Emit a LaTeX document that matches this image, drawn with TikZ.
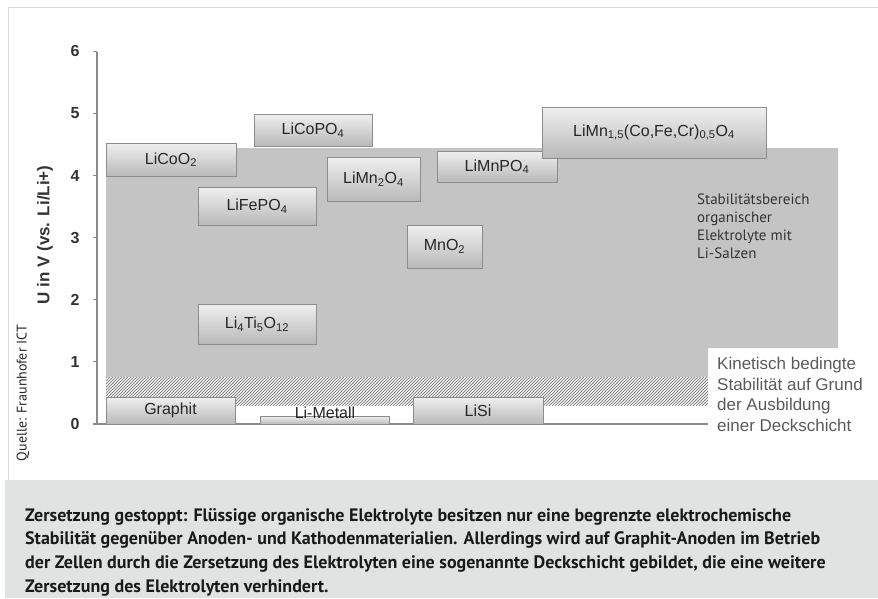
\documentclass[tikz,border=0pt]{standalone}
\usepackage{fontspec}
\setmainfont{Liberation Sans}
\newfontfamily\srcfont{PT Sans}
\usetikzlibrary{patterns,shadows}

\definecolor{regiongray}{HTML}{C4C4C4}
\definecolor{hatchgray}{HTML}{6E6E6E}
\definecolor{boxedge}{HTML}{8C8C8C}
\definecolor{axisgray}{HTML}{8A8A8A}
\definecolor{framegray}{HTML}{DADADA}
\definecolor{captiongray}{HTML}{E1E3E3}
\definecolor{kinetext}{HTML}{5A5A5A}

\begin{document}
\begin{tikzpicture}[x=1pt,y=-1pt,
  matbox/.style={draw=boxedge,top color=gray!12,bottom color=gray!55,
    drop shadow={shadow xshift=1pt,shadow yshift=-1.2pt,opacity=0.3},
    inner sep=0pt,text=black!85,font=\fontsize{16}{16}\selectfont},
  ticklabel/.style={font=\bfseries\fontsize{16}{16}\selectfont,text=black!80}]
\useasboundingbox (0,0) rectangle (878,598);

% frame and caption area
\draw[framegray] (8,480) -- (8,7) -- (878,7);
\fill[captiongray] (5,480) rectangle (878,598);

% stability region of the electrolyte
\fill[regiongray] (106,148) -- (838,148) -- (838,348) -- (708,348) -- (708,377) -- (106,377) -- cycle;
\fill[gray!12] (106,377) rectangle (708,405);
\fill[pattern=north east lines,pattern color=hatchgray] (106,377) rectangle (708,405);

% axes
\draw[axisgray,line width=1.2pt] (97,52) -- (97,424);
\draw[axisgray,line width=1.2pt] (93,424) -- (708,424);
\foreach \v in {0,...,6} {
  \draw[axisgray,line width=1pt] (93,{424-62.1*\v}) -- (97,{424-62.1*\v});
  \node[ticklabel] (tick\v) at (75,{424-62.1*\v}) {\v};
}
\node[rotate=90,font=\bfseries\fontsize{17}{17}\selectfont,text=black!80] (ylabel) at (45,235) {U in V (vs. Li/Li+)};
\node[rotate=90,font=\srcfont\fontsize{14}{14}\selectfont,text=black!85] (source) at (23,393) {Quelle: Fraunhofer ICT};

% electrode materials
\node[matbox,minimum width=130,minimum height=33] (licoo2) at (171,159.5) {LiCoO\textsubscript{2}};
\node[matbox,minimum width=118,minimum height=32] (licopo4) at (313,130) {LiCoPO\textsubscript{4}};
\node[matbox,minimum width=93,minimum height=44] (limn2o4) at (373.5,179) {LiMn\textsubscript{2}O\textsubscript{4}};
\node[matbox,minimum width=118,minimum height=38] (lifepo4) at (257,206) {LiFePO\textsubscript{4}};
\node[matbox,minimum width=120,minimum height=31] (limnpo4) at (497,166.5) {LiMnPO\textsubscript{4}};
\node[matbox,minimum width=224,minimum height=51] (limnco) at (654,132.5) {LiMn\textsubscript{1,5}(Co,Fe,Cr)\textsubscript{0,5}O\textsubscript{4}};
\node[matbox,minimum width=75,minimum height=43] (mno2) at (444.5,246.5) {MnO\textsubscript{2}};
\node[matbox,minimum width=118,minimum height=40] (lito) at (257,324) {Li\textsubscript{4}Ti\textsubscript{5}O\textsubscript{12}};
\node[matbox,minimum width=129,minimum height=27] (graphit) at (170.5,410.5) {Graphit};
\node[matbox,minimum width=129,minimum height=8] (limetall) at (324.5,420) {};
\node[font=\fontsize{16}{16}\selectfont,text=black!85] (limetalltext) at (325,413) {Li-Metall};
\node[matbox,minimum width=130,minimum height=27] (lisi) at (478,410.5) {LiSi};

% region texts
\node[anchor=north west,inner sep=0pt,align=left,text=black!80,
  font=\srcfont\fontsize{15}{18}\selectfont] (stabtext) at (697,194)
  {Stabilitätsbereich\\organischer\\Elektrolyte mit\\Li-Salzen};
\node[anchor=north west,inner sep=0pt,align=left,text=kinetext,
  font=\fontsize{17}{20.7}\selectfont] (kintext) at (717,357)
  {Kinetisch bedingte\\Stabilität auf Grund\\der Ausbildung\\einer Deckschicht};

% caption
\node[anchor=north west,inner sep=0pt,align=left,text=black!90,
  font=\srcfont\bfseries\fontsize{18}{23.7}\selectfont] (caption) at (25,508)
  {Zersetzung gestoppt: Flüssige organische Elektrolyte besitzen nur eine begrenzte elektrochemische\\
   Stabilität gegenüber Anoden- und Kathodenmaterialien. Allerdings wird auf Graphit-Anoden im Betrieb\\
   der Zellen durch die Zersetzung des Elektrolyten eine sogenannte Deckschicht gebildet, die eine weitere\\
   Zersetzung des Elektrolyten verhindert.};
\end{tikzpicture}
\end{document}
